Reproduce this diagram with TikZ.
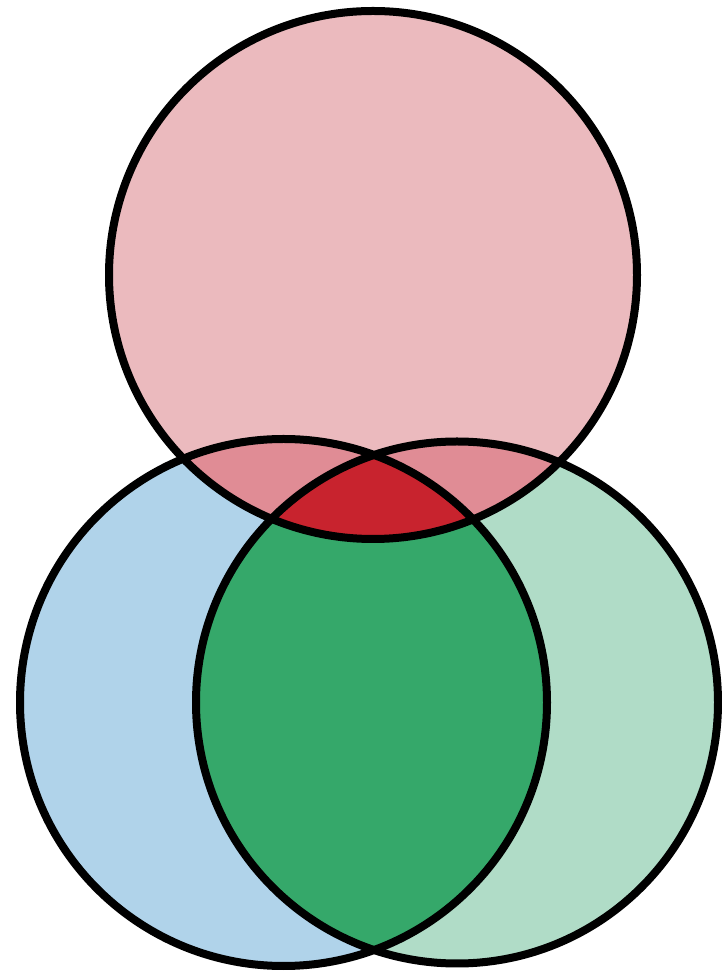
\documentclass[tikz,border=0pt]{standalone}
\usepackage{xcolor}
\definecolor{topPink}{HTML}{EBBABE}
\definecolor{pairPink}{HTML}{E08C95}
\definecolor{coreRed}{HTML}{C8232E}
\definecolor{leftBlue}{HTML}{B0D3EA}
\definecolor{rightGreen}{HTML}{B0DCC7}
\definecolor{pairGreen}{HTML}{35A86A}
\usepackage{tikz}
\usetikzlibrary{calc}
\tikzset{
    % Outline drawn over every set
    set outline/.style={
        draw=black,
        line width=8pt,
    },
}
% Set shapes
\newcommand{\topSet}{(373,703) circle (264)}
\newcommand{\leftSet}{(283.5,275.5) circle (263.5)}
\newcommand{\rightSet}{(457,275.5) circle (261)}

\begin{document}
\begin{tikzpicture}[x=1pt, y=1pt]
    \useasboundingbox (0,0) rectangle (722,978);

    % Bottom sets
    \fill [leftBlue] \leftSet;
    \fill [rightGreen] \rightSet;
    \begin{scope}
        \clip \leftSet;
        \fill [pairGreen] \rightSet;
    \end{scope}

    % Top set and its overlaps
    \fill [topPink] \topSet;
    \begin{scope}
        \clip \topSet;
        \fill [pairPink] \leftSet;
        \fill [pairPink] \rightSet;
        \clip \leftSet;
        \fill [coreRed] \rightSet;
    \end{scope}

    % Outlines
    \draw [set outline] \topSet;
    \draw [set outline] \leftSet;
    \draw [set outline] \rightSet;
\end{tikzpicture}
\end{document}
